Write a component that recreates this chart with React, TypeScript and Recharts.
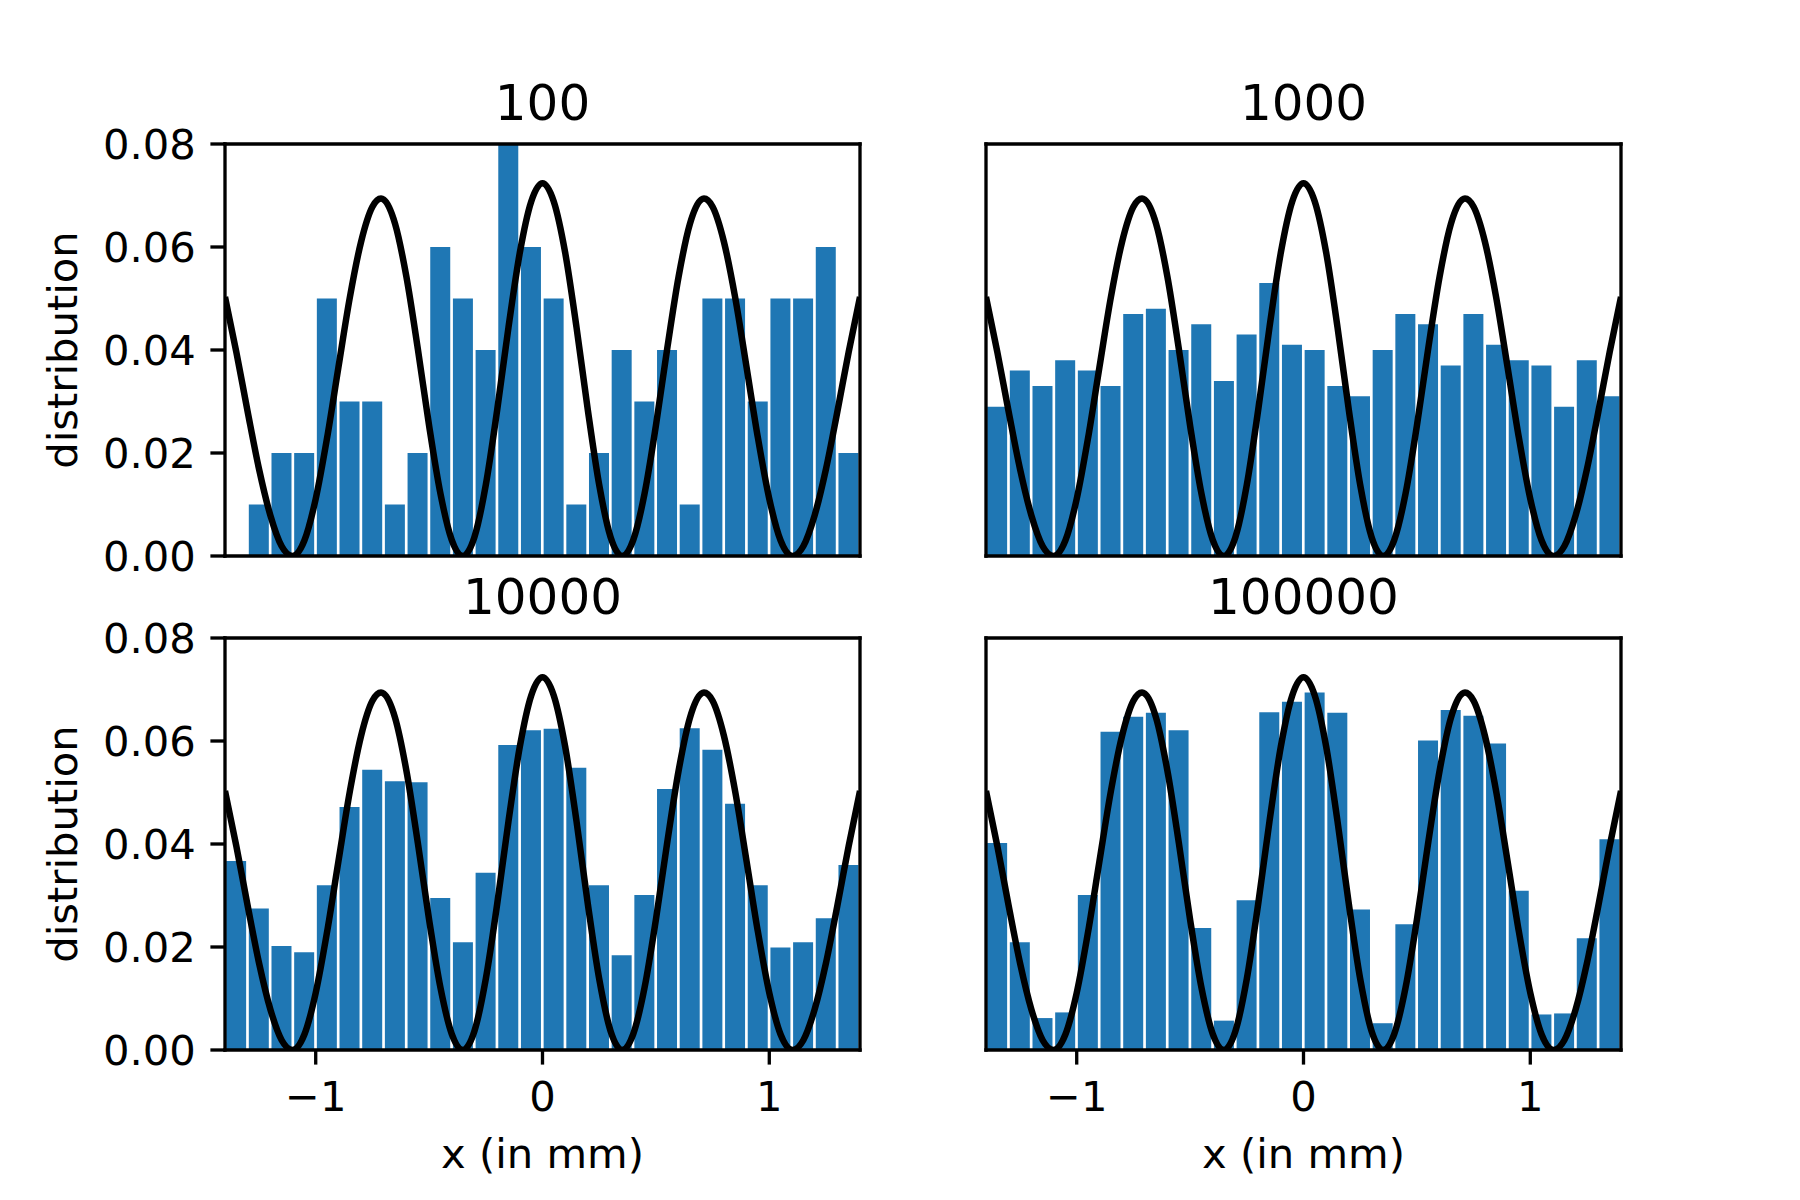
import { ComposedChart, Bar, Line, XAxis, YAxis, ReferenceLine } from "recharts";

// histogram bins (x in mm, bin width 0.1)
const binCenters = [
  -1.35, -1.25, -1.15, -1.05, -0.95, -0.85, -0.75, -0.65, -0.55, -0.45, -0.35, -0.25, -0.15, -0.05,
  0.05, 0.15, 0.25, 0.35, 0.45, 0.55, 0.65, 0.75, 0.85, 0.95, 1.05, 1.15, 1.25, 1.35,
];

const hist100 = [
  0, 0.01, 0.02, 0.02, 0.05, 0.03, 0.03, 0.01, 0.02, 0.06, 0.05, 0.04, 0.08, 0.06,
  0.05, 0.01, 0.02, 0.04, 0.03, 0.04, 0.01, 0.05, 0.05, 0.03, 0.05, 0.05, 0.06, 0.02,
];
const hist1000 = [
  0.029, 0.036, 0.033, 0.038, 0.036, 0.033, 0.047, 0.048, 0.04, 0.045, 0.034, 0.043, 0.053, 0.041,
  0.04, 0.033, 0.031, 0.04, 0.047, 0.045, 0.037, 0.047, 0.041, 0.038, 0.037, 0.029, 0.038, 0.031,
];
const hist10000 = [
  0.0367, 0.0275, 0.0202, 0.019, 0.032, 0.0472, 0.0544, 0.0522, 0.052, 0.0295, 0.0209, 0.0344, 0.0592, 0.0621,
  0.0624, 0.0548, 0.032, 0.0184, 0.0301, 0.0507, 0.0625, 0.0583, 0.0478, 0.032, 0.0199, 0.0209, 0.0256, 0.0359,
];
const hist100000 = [
  0.0402, 0.0209, 0.0062, 0.0073, 0.0301, 0.0618, 0.0647, 0.0655, 0.0621, 0.0237, 0.0057, 0.0291, 0.0656, 0.0676,
  0.0694, 0.0655, 0.0273, 0.0052, 0.0244, 0.0601, 0.066, 0.0649, 0.0595, 0.0309, 0.0069, 0.0071, 0.0217, 0.0409,
];

// theoretical curve
const curveX = [
  -1.4, -1.35, -1.3, -1.25, -1.2, -1.15, -1.102, -1.05, -1.0, -0.95, -0.9, -0.85, -0.8, -0.75, -0.712,
  -0.7, -0.65, -0.6, -0.55, -0.5, -0.45, -0.4, -0.351, -0.3, -0.25, -0.2, -0.15, -0.1, -0.05, 0,
  0.05, 0.1, 0.15, 0.2, 0.25, 0.3, 0.351, 0.4, 0.45, 0.5, 0.55, 0.6, 0.65, 0.7,
  0.712, 0.75, 0.8, 0.85, 0.9, 0.95, 1.0, 1.05, 1.102, 1.15, 1.2, 1.25, 1.3, 1.35, 1.4,
];
const curveY = [
  0.0503, 0.0396, 0.028, 0.0169, 0.0079, 0.0019, 0, 0.003, 0.0111, 0.0229, 0.0366, 0.0501, 0.061, 0.0678, 0.0694,
  0.0692, 0.0645, 0.0542, 0.0403, 0.0253, 0.0121, 0.0031, 0, 0.0037, 0.0138, 0.0283, 0.0444, 0.0589, 0.0688, 0.0724,
  0.0688, 0.0589, 0.0444, 0.0283, 0.0138, 0.0037, 0, 0.0031, 0.0121, 0.0253, 0.0403, 0.0542, 0.0645, 0.0692,
  0.0694, 0.0678, 0.061, 0.0501, 0.0366, 0.0229, 0.0111, 0.003, 0, 0.0019, 0.0079, 0.0169, 0.028, 0.0396, 0.0503,
];

const yTicks = [0, 0.02, 0.04, 0.06, 0.08];
const xTicks = [-1, 0, 1];
const xDomain: [number, number] = [-1.4, 1.4];
const yDomain: [number, number] = [0, 0.08];

const FONT = "'DejaVu Sans', sans-serif";
const spine = { stroke: "#000", strokeWidth: 3.33, strokeLinecap: "square" as const };
const tickStyle = { fontSize: 41.7, fill: "#000", fontFamily: FONT };

const curveData = curveX.map((x, i) => ({ x, y: curveY[i] }));

function fmtX(v: number) {
  return v < 0 ? `\u2212${-v}` : `${v}`;
}

interface PanelProps {
  title: string;
  values: number[];
  left: number;
  top: number;
  height: number;
  leftCol: boolean;
  bottomRow: boolean;
}

function Panel({ title, values, left, top, height, leftCol, bottomRow }: PanelProps) {
  const data = binCenters.map((bin, i) => ({ bin, v: values[i] }));
  return (
    <div style={{ position: "absolute", left, top }}>
      <ComposedChart
        width={900}
        height={height}
        data={data}
        margin={{ top: 144, right: 40, bottom: height - 144 - 412 - 60, left: 105 }}
        barCategoryGap="5%"
        style={{ fontFamily: FONT }}
      >
        <Bar xAxisId="bins" dataKey="v" fill="#1f77b4" isAnimationActive={false} />
        <Line
          xAxisId="num"
          data={curveData}
          dataKey="y"
          type="monotone"
          stroke="#000"
          strokeWidth={6.5}
          dot={false}
          isAnimationActive={false}
        />
        <XAxis xAxisId="bins" dataKey="bin" type="category" height={0} tick={false} tickLine={false} axisLine={false} />
        <XAxis
          xAxisId="num"
          dataKey="x"
          type="number"
          domain={xDomain}
          ticks={xTicks}
          allowDataOverflow
          height={60}
          axisLine={spine}
          tick={bottomRow ? tickStyle : false}
          tickLine={bottomRow ? { stroke: "#000", strokeWidth: 3.33 } : false}
          tickSize={14.6}
          tickMargin={16.5}
          tickFormatter={fmtX}
        />
        <YAxis
          type="number"
          domain={yDomain}
          ticks={yTicks}
          allowDataOverflow
          width={120}
          axisLine={spine}
          tick={leftCol ? tickStyle : false}
          tickLine={leftCol ? { stroke: "#000", strokeWidth: 3.33 } : false}
          tickSize={14.6}
          tickMargin={14.6}
          tickFormatter={(v: number) => v.toFixed(2)}
        />
        {/* top and right spines */}
        <ReferenceLine xAxisId="num" y={yDomain[1]} {...spine} />
        <ReferenceLine xAxisId="num" x={xDomain[1]} {...spine} />
        <text x={542.5} y={119.5} textAnchor="middle" fontSize={50} fontFamily={FONT} fill="#000">
          {title}
        </text>
        {leftCol && (
          <text
            transform="translate(76.5, 350) rotate(-90)"
            textAnchor="middle"
            fontSize={41.7}
            fontFamily={FONT}
            fill="#000"
          >
            distribution
          </text>
        )}
        {bottomRow && (
          <text x={542.5} y={673.7} textAnchor="middle" fontSize={41.7} fontFamily={FONT} fill="#000">
            x (in mm)
          </text>
        )}
      </ComposedChart>
    </div>
  );
}

export default function App() {
  return (
    <div style={{ position: "relative", width: 1800, height: 1200, background: "#fff", overflow: "hidden" }}>
      <style>{"body{margin:0}"}</style>
      <Panel title="100" values={hist100} left={0} top={0} height={640} leftCol bottomRow={false} />
      <Panel title="1000" values={hist1000} left={761} top={0} height={640} leftCol={false} bottomRow={false} />
      <Panel title="10000" values={hist10000} left={0} top={494} height={696} leftCol bottomRow />
      <Panel title="100000" values={hist100000} left={761} top={494} height={696} leftCol={false} bottomRow />
    </div>
  );
}
